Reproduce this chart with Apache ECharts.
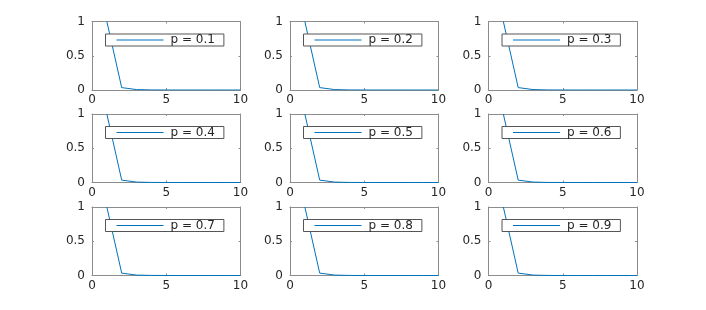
<!DOCTYPE html>
<html>
<head>
<meta charset="utf-8">
<script src="https://cdn.jsdelivr.net/npm/echarts@6/dist/echarts.min.js"></script>
<style>html,body{margin:0;padding:0;background:#fff;}#c{width:706px;height:310px;}</style>
</head>
<body>
<div id="c"></div>
<script>
// ---- data ----
const xValues = [1, 2, 3, 4, 5, 6, 7, 8, 9, 10];
const yValues = [1, 0.035, 0.006, 0.001, 0.0002, 0, 0, 0, 0, 0];
const pLabels = ['p = 0.1', 'p = 0.2', 'p = 0.3', 'p = 0.4', 'p = 0.5', 'p = 0.6', 'p = 0.7', 'p = 0.8', 'p = 0.9'];
const xTicks = [0, 5, 10];
const yTicks = [0, 0.5, 1];

// ---- layout ----
const colLeft = [92, 290, 488.5];
const rowTop = [21.5, 114, 207];
const gw = 148.5, gh = 68.5;
const axisColor = '#8c8c8c';
const textColor = '#262626';
const font = 'DejaVu Sans';
const lineColor = '#0072BD';

const grids = [], xAxes = [], yAxes = [], series = [], legends = [];
for (let k = 0; k < 9; k++) {
  const r = Math.floor(k / 3), c = k % 3;
  grids.push({ left: colLeft[c], top: rowTop[r], width: gw, height: gh, containLabel: false });
  const xBase = {
    type: 'value', gridIndex: k, min: xTicks[0], max: xTicks[xTicks.length - 1],
    interval: xTicks[1] - xTicks[0],
    axisLine: { show: true, onZero: false, lineStyle: { color: axisColor, width: 1 } },
    axisTick: { show: true, inside: true, length: 2, lineStyle: { color: axisColor } },
    splitLine: { show: false }
  };
  const yBase = {
    type: 'value', gridIndex: k, min: yTicks[0], max: yTicks[yTicks.length - 1],
    interval: yTicks[1] - yTicks[0],
    axisLine: { show: true, onZero: false, lineStyle: { color: axisColor, width: 1 } },
    axisTick: { show: true, inside: true, length: 2, lineStyle: { color: axisColor } },
    splitLine: { show: false }
  };
  xAxes.push(Object.assign({}, xBase, {
    position: 'bottom',
    axisLabel: { show: true, color: textColor, fontFamily: font, fontSize: 12, margin: 4,
      formatter: v => String(v) }
  }));
  xAxes.push(Object.assign({}, xBase, { position: 'top', axisLabel: { show: false } }));
  yAxes.push(Object.assign({}, yBase, {
    position: 'left',
    axisLabel: { show: true, color: textColor, fontFamily: font, fontSize: 12, margin: 7,
      formatter: v => String(v) }
  }));
  yAxes.push(Object.assign({}, yBase, { position: 'right', axisLabel: { show: false } }));

  series.push({
    name: pLabels[k], type: 'line', xAxisIndex: 2 * k, yAxisIndex: 2 * k,
    data: xValues.map((x, i) => [x, yValues[i]]),
    symbol: 'none', color: lineColor,
    lineStyle: { color: lineColor, width: 1 },
    animation: false, z: 3
  });

  legends.push({
    data: [pLabels[k]],
    left: colLeft[c] + 13.5, top: rowTop[r] + 12.5,
    orient: 'horizontal',
    icon: 'rect', itemWidth: 47, itemHeight: 1,
    padding: [0, 9, 0, 11],
    backgroundColor: '#fff',
    borderColor: '#555', borderWidth: 1, borderRadius: 0,
    textStyle: { color: textColor, fontFamily: font, fontSize: 12, lineHeight: 10, padding: [0, 0, 0, 2] },
    selectedMode: false
  });
}

const chart = echarts.init(document.getElementById('c'), null, { renderer: 'canvas' });
chart.setOption({
  backgroundColor: '#fff',
  animation: false,
  grid: grids,
  xAxis: xAxes,
  yAxis: yAxes,
  legend: legends,
  series: series
});
</script>
</body>
</html>
